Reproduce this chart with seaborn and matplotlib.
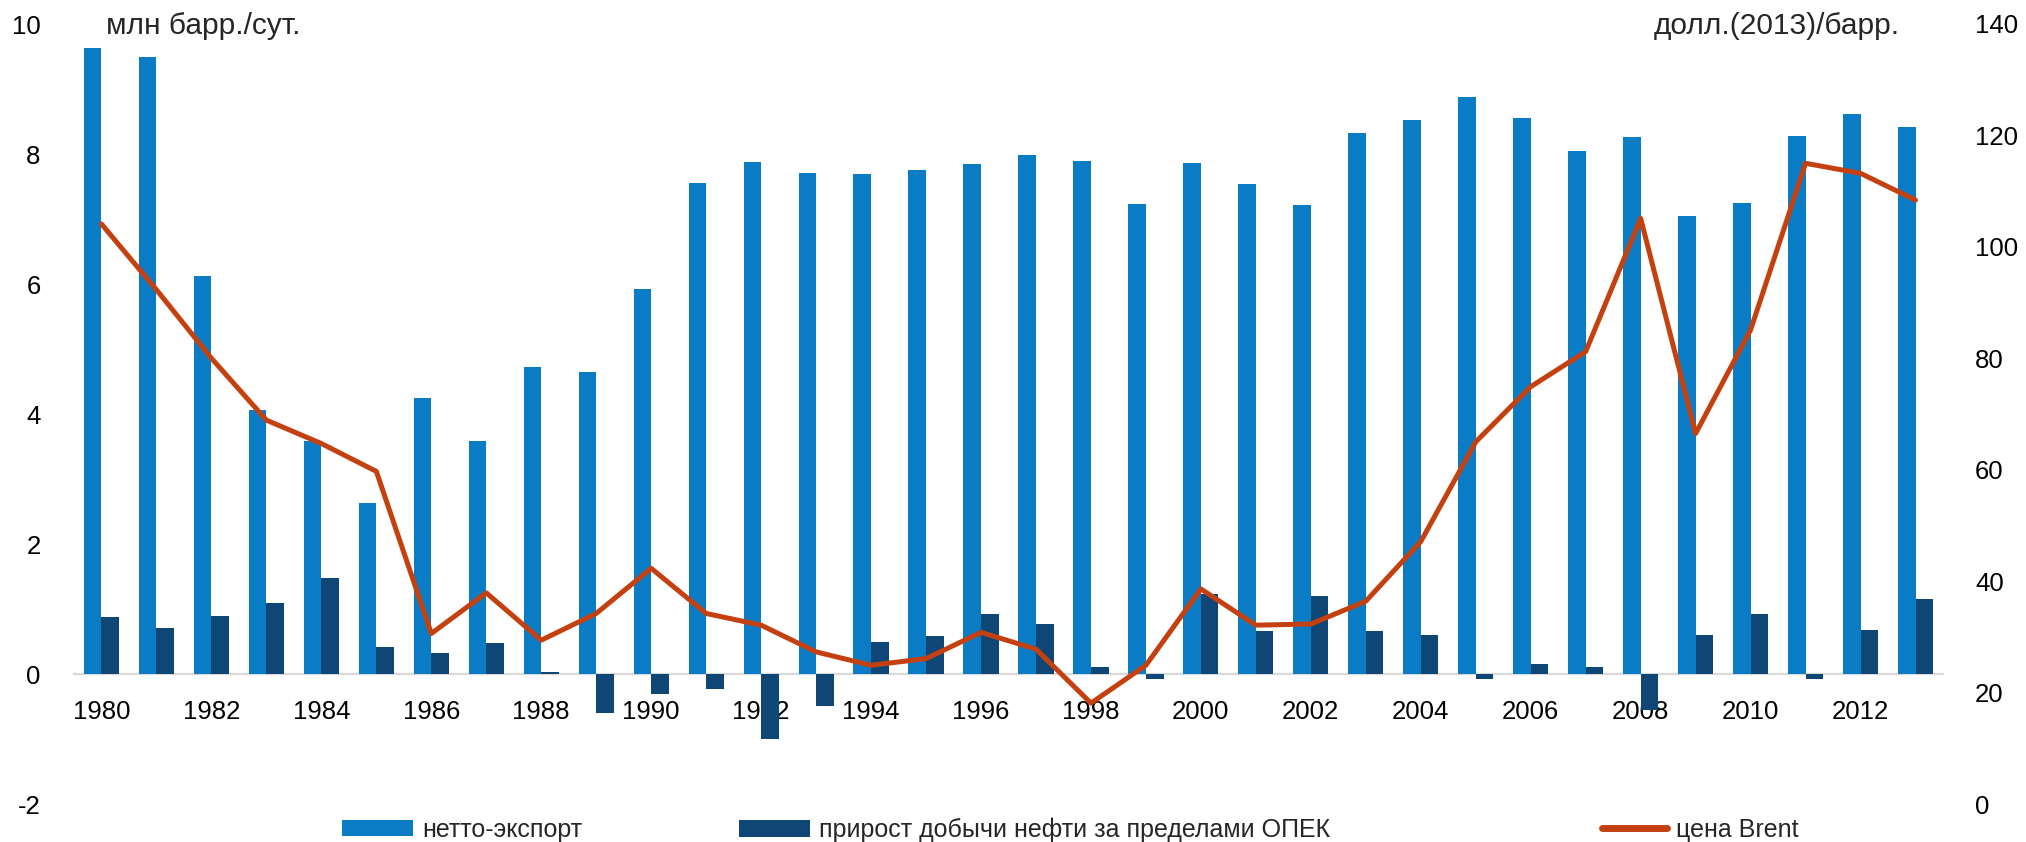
import numpy as np
import pandas as pd
import matplotlib
matplotlib.use("Agg")
import matplotlib.pyplot as plt
import seaborn as sns
from matplotlib.patches import Patch
from matplotlib.lines import Line2D

# ---------------- data ----------------
years = list(range(1980, 2014))
net_export = [9.63, 9.49, 6.13, 4.06, 3.59, 2.63, 4.25, 3.59, 4.72, 4.64,
              5.92, 7.55, 7.88, 7.71, 7.70, 7.76, 7.85, 7.98, 7.89, 7.23,
              7.86, 7.54, 7.22, 8.33, 8.52, 8.88, 8.55, 8.04, 8.26, 7.04,
              7.25, 8.27, 8.62, 8.42]
non_opec_growth = [0.87, 0.71, 0.89, 1.10, 1.48, 0.42, 0.32, 0.47, 0.03, -0.60,
                   -0.30, -0.23, -1.00, -0.49, 0.49, 0.58, 0.92, 0.77, 0.11, -0.08,
                   1.23, 0.66, 1.20, 0.66, 0.60, -0.08, 0.16, 0.11, -0.55, 0.60,
                   0.92, -0.07, 0.68, 1.15]
brent = [104.1, 92.3, 80.0, 68.9, 64.7, 59.7, 30.6, 37.9, 29.4, 34.2,
         42.3, 34.2, 32.1, 27.3, 24.9, 26.1, 30.8, 27.8, 18.1, 24.9,
         38.6, 32.1, 32.3, 36.4, 47.1, 65.0, 74.9, 81.2, 105.1, 66.5,
         85.1, 115.0, 113.2, 108.4]
series_names = ["нетто-экспорт", "прирост добычи нефти за пределами ОПЕК", "цена Brent"]
left_unit = "млн барр./сут."
right_unit = "долл.(2013)/барр."
left_ticks = [-2, 0, 2, 4, 6, 8, 10]
right_ticks = [0, 20, 40, 60, 80, 100, 120, 140]

# ---------------- style ----------------
c_light = "#0a7cc5"
c_dark = "#0e4675"
c_line = "#c4410f"

sns.set_style("white")
plt.rcParams["font.family"] = ["Liberation Sans", "DejaVu Sans"]
plt.rcParams["axes.unicode_minus"] = False
FS = 18.5
FS_UNIT = 21.5
FS_LEG = 18

W, H = 2026, 842
fig = plt.figure(figsize=(W / 100, H / 100), dpi=100)
x0, x1, ytop, ybot = 74, 1943, 24, 804
ax = fig.add_axes([x0 / W, 1 - ybot / H, (x1 - x0) / W, (ybot - ytop) / H])

df = pd.DataFrame({"year": [str(y) for y in years],
                   series_names[0]: net_export,
                   series_names[1]: non_opec_growth})
long = df.melt(id_vars="year", var_name="series", value_name="value")

sns.barplot(data=long, x="year", y="value", hue="series",
            hue_order=series_names[:2], palette=[c_light, c_dark],
            width=0.64, dodge=True, saturation=1, linewidth=0,
            legend=False, ax=ax)

ax2 = ax.twinx()
pos = np.arange(len(years))
sns.lineplot(x=pos, y=brent, ax=ax2, color=c_line, linewidth=3.6, legend=False)

ax.set_xlim(-0.5, len(years) - 0.5)
ax.set_ylim(-2, 10)
ax2.set_ylim(0, 140)
ax.set_yticks(left_ticks)
ax.set_yticklabels([str(t) for t in left_ticks])
ax2.set_yticks(right_ticks)
ax2.set_yticklabels([str(t) for t in right_ticks])
ax.set_xticks(pos[::2])
ax.set_xticklabels([str(y) for y in years[::2]])

for a in (ax, ax2):
    a.set_xlabel("")
    a.set_ylabel("")
    for s in a.spines.values():
        s.set_visible(False)
ax.spines["bottom"].set_visible(True)
ax.spines["bottom"].set_position(("data", 0))
ax.spines["bottom"].set_color("#d9d9d9")
ax.spines["bottom"].set_linewidth(1.6)
ax.spines["bottom"].set_zorder(0.5)

ax.tick_params(axis="x", length=0, pad=19, labelsize=FS, colors="black")
ax.tick_params(axis="y", length=0, pad=24, labelsize=FS, colors="black")
ax2.tick_params(axis="y", length=0, pad=23, labelsize=FS, colors="black")
ax.grid(False)
ax2.grid(False)

fig.text(106 / W, 1 - 26 / H, left_unit, fontsize=FS_UNIT, ha="left", va="center")
fig.text(1900 / W, 1 - 26 / H, right_unit, fontsize=FS_UNIT, ha="right", va="center")

handles = [Patch(facecolor=c_light, edgecolor="none"),
           Patch(facecolor=c_dark, edgecolor="none"),
           Line2D([0], [0], color=c_line, linewidth=5)]
anchors = [342, 739, 1602]
hlens = [2.85, 2.85, 2.6]
for h, name, xa, hl in zip(handles, series_names, anchors, hlens):
    fig.legend(handles=[h], labels=[name], loc="center left",
               bbox_to_anchor=(xa / W, 1 - 830 / H), frameon=False,
               fontsize=FS_LEG, handlelength=hl, handleheight=0.64,
               handletextpad=0.35, borderpad=0, borderaxespad=0)

fig.savefig("out.png", dpi=100)
